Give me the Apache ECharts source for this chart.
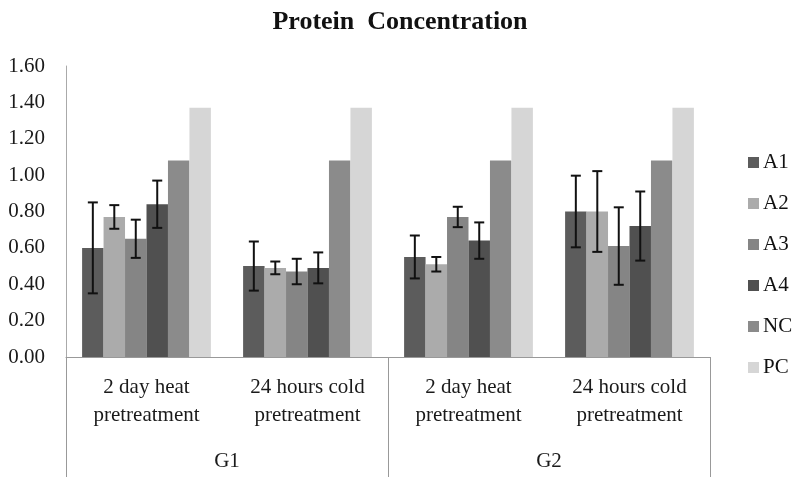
<!DOCTYPE html>
<html>
<head>
<meta charset="utf-8">
<script src="https://cdn.jsdelivr.net/npm/echarts@6/dist/echarts.min.js"></script>
<style>html,body{margin:0;padding:0;background:#fff;}#c{width:800px;height:477px;}</style>
</head>
<body>
<div id="c"></div>
<script>
var categories = ['2 day heat\npretreatment', '24 hours cold\npretreatment', '2 day heat\npretreatment', '24 hours cold\npretreatment'];
var groups = ['G1', 'G2'];
var seriesNames = ['A1', 'A2', 'A3', 'A4', 'NC', 'PC'];
var A1 = [0.60, 0.50, 0.55, 0.80];
var A2 = [0.77, 0.49, 0.51, 0.80];
var A3 = [0.65, 0.47, 0.77, 0.61];
var A4 = [0.84, 0.49, 0.64, 0.72];
var NC = [1.08, 1.08, 1.08, 1.08];
var PC = [1.37, 1.37, 1.37, 1.37];
var errA1 = [0.25, 0.135, 0.118, 0.197];
var errA2 = [0.065, 0.035, 0.04, 0.222];
var errA3 = [0.105, 0.07, 0.056, 0.213];
var errA4 = [0.13, 0.085, 0.10, 0.19];
var yTicks = [0, 0.2, 0.4, 0.6, 0.8, 1.0, 1.2, 1.4, 1.6];

var values = [A1, A2, A3, A4, NC, PC];
var errs = [errA1, errA2, errA3, errA4];
var colors = ['#5c5c5c', '#ababab', '#858585', '#505050', '#8b8b8b', '#d6d6d6'];
var font = '"Liberation Serif", "Times New Roman", serif';
var catGap = 0.2;

var series = [];
values.forEach(function (v, i) {
  series.push({
    name: seriesNames[i], type: 'bar', data: v, xAxisIndex: 0,
    barGap: '0%', barCategoryGap: (catGap * 100) + '%',
    itemStyle: { color: colors[i] }, z: 2
  });
});
errs.forEach(function (e, i) {
  var d = values[i].map(function (v, k) { return [k, v - e[k], v + e[k]]; });
  series.push({
    name: seriesNames[i] + ' error', type: 'custom', xAxisIndex: 0, z: 5,
    data: d,
    renderItem: function (params, api) {
      var cw = api.size([1, 0])[0];
      var bw = cw * (1 - catGap) / values.length;
      var lo = api.coord([api.value(0), api.value(1)]);
      var hi = api.coord([api.value(0), api.value(2)]);
      var x = lo[0] + (i - (values.length - 1) / 2) * bw;
      var cap = 5;
      var st = { stroke: '#111', lineWidth: 2 };
      return { type: 'group', children: [
        { type: 'line', shape: { x1: x, y1: lo[1], x2: x, y2: hi[1] }, style: st },
        { type: 'line', shape: { x1: x - cap, y1: lo[1], x2: x + cap, y2: lo[1] }, style: st },
        { type: 'line', shape: { x1: x - cap, y1: hi[1], x2: x + cap, y2: hi[1] }, style: st }
      ]};
    }
  });
});

var chart = echarts.init(document.getElementById('c'));
chart.setOption({
  backgroundColor: '#fff',
  animation: false,
  title: {
    text: 'Protein  Concentration', left: 'center', top: 4,
    textStyle: { fontFamily: font, fontSize: 26, fontWeight: 'bold', color: '#111' }
  },
  legend: {
    data: seriesNames, orient: 'vertical', left: 743, top: 147,
    itemWidth: 11, itemHeight: 11, itemGap: 20, icon: 'rect',
    textStyle: { fontFamily: font, fontSize: 21, color: '#111', padding: [0, 0, 0, -1] }
  },
  grid: { left: 66, right: 90, top: 66, bottom: 120 },
  xAxis: [{
    type: 'category', data: categories, position: 'bottom',
    axisLine: { show: true, lineStyle: { color: '#999', width: 1 } },
    axisTick: { show: false },
    axisLabel: { fontFamily: font, fontSize: 21, lineHeight: 28, color: '#1a1a1a', margin: 16, interval: 0 }
  }, {
    type: 'category', data: groups, position: 'bottom',
    axisLine: { show: false },
    axisTick: { show: true, length: 120, lineStyle: { color: '#999', width: 1 } },
    axisLabel: { fontFamily: font, fontSize: 21, lineHeight: 28, color: '#1a1a1a', margin: 90 }
  }],
  yAxis: {
    type: 'value', min: yTicks[0], max: yTicks[yTicks.length - 1], interval: 0.2,
    axisLine: { show: true, lineStyle: { color: '#aaa', width: 1 } },
    axisTick: { show: false },
    splitLine: { show: false },
    axisLabel: { fontFamily: font, fontSize: 21, color: '#1a1a1a', margin: 21,
      formatter: function (v) { return v.toFixed(2); } }
  },
  series: series
});
</script>
</body>
</html>
